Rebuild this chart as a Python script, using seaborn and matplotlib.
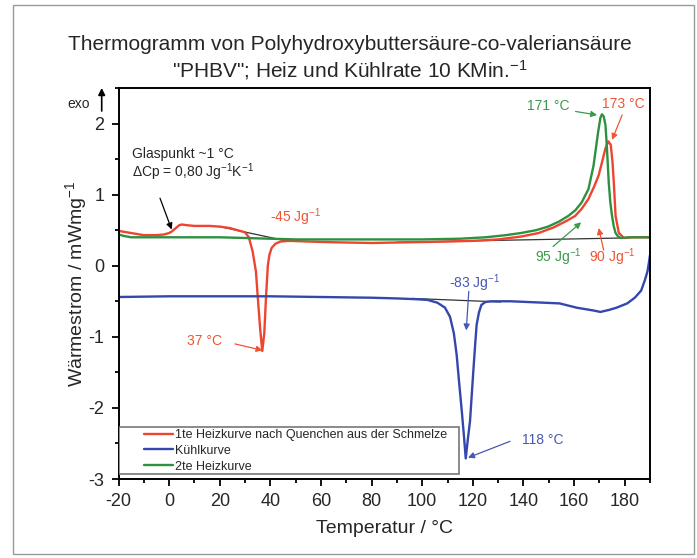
import matplotlib
matplotlib.use('Agg')
import matplotlib.pyplot as plt
import pandas as pd
import seaborn as sns
from matplotlib.patches import Rectangle

# values
labels = ['1te Heizkurve nach Quenchen aus der Schmelze', 'Kühlkurve', '2te Heizkurve']
colors = ['#EE4430', '#3447AC', '#2E9140']

heiz1_T = [-20, -15, -10, -5, -2, 0, 1, 2, 3, 4, 5, 7, 10, 16, 20, 24, 27, 30, 31.5, 33,
           34.3, 35, 36, 36.8, 37.6, 38.3, 39, 39.6, 40.5, 42, 44, 47.5, 55, 65, 80, 95,
           110, 120, 130, 139, 146, 152, 157, 160.4, 163, 165.7, 168, 169.7, 171, 172.4,
           173.5, 174.5, 175.2, 175.7, 176.4, 177.7, 179.7, 183, 190]
heiz1_W = [0.49, 0.46, 0.43, 0.43, 0.44, 0.46, 0.48, 0.51, 0.54, 0.57, 0.58, 0.57, 0.56,
           0.56, 0.55, 0.53, 0.50, 0.47, 0.40, 0.20, -0.08, -0.43, -0.90, -1.20, -0.95,
           -0.43, 0.00, 0.15, 0.25, 0.31, 0.34, 0.35, 0.34, 0.33, 0.32, 0.33, 0.34, 0.35,
           0.37, 0.41, 0.46, 0.54, 0.63, 0.70, 0.80, 0.94, 1.12, 1.27, 1.45, 1.65, 1.75,
           1.70, 1.45, 1.17, 0.70, 0.46, 0.39, 0.40, 0.40]

kuehl_T = [-20, 0, 20, 40, 60, 80, 90, 97, 102, 106, 109, 111, 112.5, 113.6, 114.6, 115.6,
           116.5, 117.2, 118, 118.9, 119.6, 120.2, 120.9, 121.5, 122.4, 123.4, 125, 127.3,
           135, 148, 154.3, 161, 167.7, 170.4, 174, 176.8, 181, 184, 186.5, 188, 189,
           189.6, 190]
kuehl_W = [-0.44, -0.43, -0.43, -0.43, -0.44, -0.45, -0.46, -0.47, -0.48, -0.52, -0.59,
           -0.72, -0.95, -1.25, -1.65, -2.03, -2.40, -2.71, -2.45, -2.18, -1.80, -1.48,
           -1.12, -0.83, -0.66, -0.55, -0.51, -0.50, -0.50, -0.52, -0.53, -0.59, -0.63,
           -0.65, -0.62, -0.59, -0.53, -0.45, -0.35, -0.20, -0.08, 0.05, 0.15]

heiz2_T = [-20, -18, -15, -10, 0, 10, 20, 30, 40, 50, 60, 80, 100, 115, 125, 133, 139, 145,
           149.7, 154, 157.7, 160.5, 163, 165.7, 167.7, 169.5, 170.4, 171, 171.7, 172.4,
           173, 173.7, 174.3, 175, 175.7, 176.4, 177.4, 178.4, 182, 190]
heiz2_W = [0.44, 0.42, 0.40, 0.40, 0.40, 0.40, 0.40, 0.39, 0.38, 0.37, 0.37, 0.37, 0.37,
           0.38, 0.40, 0.43, 0.46, 0.50, 0.55, 0.62, 0.70, 0.78, 0.89, 1.08, 1.41, 1.88,
           2.08, 2.13, 2.10, 1.98, 1.65, 1.17, 0.90, 0.70, 0.55, 0.46, 0.41, 0.39, 0.40, 0.40]

# baseline constructions (thin dark lines)
basis_T = [(20, 47.5), (90, 179), (96, 131)]
basis_W = [(0.55, 0.34), (0.33, 0.39), (-0.46, -0.51)]

df = pd.concat([
    pd.DataFrame({'T': heiz1_T, 'W': heiz1_W, 'kurve': labels[0]}),
    pd.DataFrame({'T': kuehl_T, 'W': kuehl_W, 'kurve': labels[1]}),
    pd.DataFrame({'T': heiz2_T, 'W': heiz2_W, 'kurve': labels[2]}),
])

sns.set_style('ticks')
plt.rcParams['font.family'] = ['Liberation Sans', 'DejaVu Sans']
plt.rcParams['mathtext.fontset'] = 'custom'
plt.rcParams['mathtext.rm'] = 'Liberation Sans'
plt.rcParams['mathtext.it'] = 'Liberation Sans:italic'
plt.rcParams['mathtext.default'] = 'regular'
plt.rcParams['axes.unicode_minus'] = False

fig = plt.figure(figsize=(6.97, 5.58), dpi=100)
ax = fig.add_axes([118.5 / 697, 1 - 479 / 558, (650 - 118.5) / 697, (479 - 88) / 558])

for (t0, t1), (w0, w1) in zip(basis_T, basis_W):
    ax.plot([t0, t1], [w0, w1], color='#333333', lw=0.9, zorder=1)

sns.lineplot(data=df, x='T', y='W', hue='kurve', hue_order=labels, palette=colors,
             sort=False, estimator=None, lw=1.7, ax=ax, zorder=2)

ax.set_xlim(-20, 190)
ax.set_ylim(-3, 2.5)
ax.set_xticks(range(-20, 181, 20))
ax.set_xticks(range(-10, 191, 10), minor=True)
ax.set_yticks([-3, -2, -1, 0, 1, 2])
ax.set_yticks([-2.5, -1.5, -0.5, 0.5, 1.5, 2.5], minor=True)
ax.tick_params(which='both', direction='out', width=1.3, color='black', labelsize=13,
               top=False, right=False)
ax.tick_params(which='major', length=5, pad=5)
ax.tick_params(which='minor', length=3)
for s in ax.spines.values():
    s.set_color('black')
    s.set_linewidth(1.4)
ax.set_xlabel('Temperatur / °C', fontsize=14, labelpad=7)
ax.set_ylabel('Wärmestrom / mWmg$^{-1}$', fontsize=14, labelpad=0)

# legend with its own frame
h, l = ax.get_legend_handles_labels()
ax.legend(h, l, loc='upper left', bbox_to_anchor=((144 - 118.5) / 531.5, (479 - 429) / 391),
          frameon=False, fontsize=9, handlelength=2.3, handletextpad=0.2,
          labelspacing=0.3, borderpad=0, borderaxespad=0)
ax.add_patch(Rectangle((0, 5 / 391), (459 - 118.5) / 531.5, 47 / 391, transform=ax.transAxes,
                       facecolor='white', edgecolor='#777777', lw=1.2, zorder=3))
ax.get_legend().set_zorder(4)

# annotations
red_t, green_t, blue_t = '#EE5535', '#3A9A4C', '#4657B4'
arrow = dict(arrowstyle='-|>', lw=0.9, mutation_scale=9, shrinkA=0, shrinkB=0)

ax.text(-14.8, 1.57, 'Glaspunkt ~1 °C', fontsize=10, va='center')
ax.text(-14.8, 1.31, 'ΔCp = 0,80 Jg$^{-1}$K$^{-1}$', fontsize=10, va='center')
ax.annotate('', xy=(1.0, 0.51), xytext=(-3.6, 0.95), arrowprops=dict(arrow, color='black'))

ax.text(39.8, 0.68, '-45 Jg$^{-1}$', fontsize=10, color=red_t, va='center')
ax.text(7.2, -1.06, '37 °C', fontsize=10, color=red_t, va='center')
ax.annotate('', xy=(36.9, -1.19), xytext=(26, -1.1), arrowprops=dict(arrow, color=red_t))

ax.text(141.4, 2.24, '171 °C', fontsize=10, color=green_t, va='center')
ax.annotate('', xy=(169.1, 2.12), xytext=(160.6, 2.17), arrowprops=dict(arrow, color=green_t))
ax.text(171, 2.27, '173 °C', fontsize=10, color=red_t, va='center')
ax.annotate('', xy=(175, 1.77), xytext=(179, 2.12), arrowprops=dict(arrow, color=red_t))

ax.text(144.4, 0.12, '95 Jg$^{-1}$', fontsize=10, color=green_t, va='center')
ax.annotate('', xy=(162.8, 0.61), xytext=(151.7, 0.27), arrowprops=dict(arrow, color=green_t))
ax.text(165.8, 0.12, '90 Jg$^{-1}$', fontsize=10, color=red_t, va='center')
ax.annotate('', xy=(169.7, 0.53), xytext=(171.7, 0.22), arrowprops=dict(arrow, color=red_t))

ax.text(110.6, -0.24, '-83 Jg$^{-1}$', fontsize=10, color=blue_t, va='center')
ax.annotate('', xy=(117.4, -0.91), xytext=(118.4, -0.36), arrowprops=dict(arrow, color=blue_t))
ax.text(139.3, -2.45, '118 °C', fontsize=10, color=blue_t, va='center')
ax.annotate('', xy=(118.1, -2.70), xytext=(134.7, -2.47), arrowprops=dict(arrow, color=blue_t))

# exo marker, title and outer frame
fig.text(67 / 697, 1 - 104 / 558, 'exo', fontsize=10, va='center')
ax.annotate('', xy=(101.7, 558 - 88), xytext=(101.7, 558 - 111), xycoords='figure pixels',
            textcoords='figure pixels', annotation_clip=False,
            arrowprops=dict(arrowstyle='-|>', lw=1.2, mutation_scale=10, color='black',
                            shrinkA=0, shrinkB=0))
fig.text(350 / 697, 1 - 45 / 558, 'Thermogramm von Polyhydroxybuttersäure-co-valeriansäure',
         fontsize=15, ha='center', va='center')
fig.text(350 / 697, 1 - 70 / 558, '"PHBV"; Heiz und Kühlrate 10 KMin.$^{-1}$',
         fontsize=15, ha='center', va='center')
fig.patches.append(Rectangle((13 / 697, 4 / 558), 681 / 697, 549 / 558,
                             transform=fig.transFigure, fill=False, edgecolor='#999999', lw=1))

fig.savefig('out.png', dpi=100)
